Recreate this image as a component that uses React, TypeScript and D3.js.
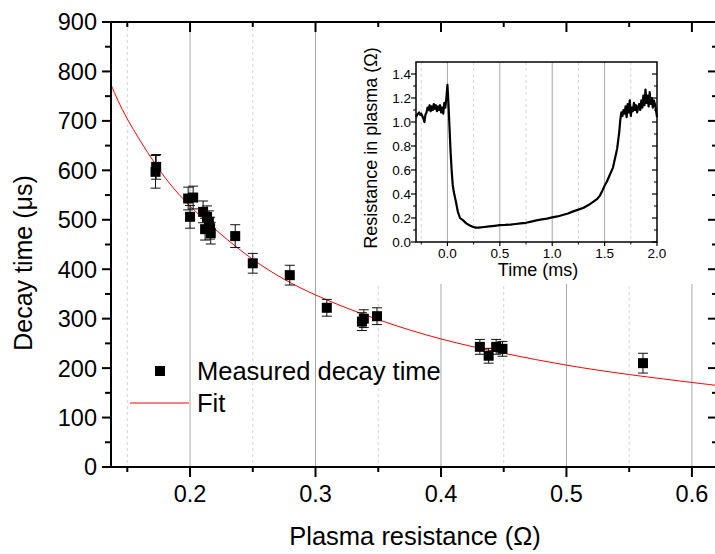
import React from "react";
import * as d3 from "d3";

const W = 715;
const H = 554;

// Main data: plasma resistance (Ω) vs decay time (µs)
const resistance = [0.1725, 0.173, 0.1985, 0.2025, 0.2, 0.2104, 0.2135, 0.215, 0.212, 0.216, 0.2165, 0.236, 0.25, 0.2795, 0.309, 0.337, 0.3385, 0.349, 0.431, 0.438, 0.444, 0.449, 0.561];
const decayTime = [597, 607, 543, 545, 506, 516, 506, 496, 481, 483, 473, 467, 412, 388, 322, 294, 300, 305, 243, 225, 243, 239, 210];
const decayErr = [33, 25, 23, 23, 23, 22, 22, 22, 22, 22, 22, 23, 20, 20, 17, 18, 18, 17, 15, 15, 15, 15, 20];

// Fit curve
const fitX = [0.137, 0.15, 0.172, 0.2, 0.25, 0.3, 0.35, 0.4, 0.45, 0.5, 0.55, 0.6, 0.62];
const fitY = [773, 704, 614, 528, 420, 348, 298, 259, 230, 206, 187, 171, 165];

const xMajor = [0.2, 0.3, 0.4, 0.5, 0.6];
const xMinor = [0.15, 0.25, 0.35, 0.45, 0.55];
const yMajor = [0, 100, 200, 300, 400, 500, 600, 700, 800, 900];
const yMinor = [50, 150, 250, 350, 450, 550, 650, 750, 850];

// Inset data: time (ms) vs resistance in plasma (Ω)
const timeMs = [
  -0.3, -0.29, -0.28, -0.27, -0.26, -0.25, -0.24, -0.23, -0.22, -0.21, -0.2, -0.19, -0.18, -0.17, -0.16, -0.15, -0.14, -0.13, -0.12, -0.11, -0.1, -0.09, -0.08, -0.07, -0.06, -0.05, -0.04, -0.03, -0.02, -0.01, 0.0,
  0.01, 0.02, 0.03, 0.04, 0.05, 0.06, 0.08, 0.1, 0.12, 0.15, 0.18, 0.21, 0.24, 0.27, 0.3, 0.35, 0.4, 0.45, 0.5, 0.55, 0.6, 0.65, 0.7, 0.75, 0.8, 0.85, 0.9, 0.95, 1.0,
  1.05, 1.1, 1.15, 1.2, 1.25, 1.3, 1.35, 1.4, 1.43, 1.45, 1.48, 1.5, 1.52, 1.55, 1.58, 1.6, 1.62, 1.64, 1.65, 1.66, 1.67, 1.68, 1.69, 1.7, 1.71, 1.72, 1.73, 1.74, 1.75,
  1.76, 1.77, 1.78, 1.79, 1.8, 1.81, 1.82, 1.83, 1.84, 1.85, 1.86, 1.87, 1.88, 1.89, 1.9, 1.91, 1.92, 1.93, 1.94, 1.95, 1.96, 1.97, 1.98, 1.99, 2.0,
];
const resOhm = [
  1.04, 1.06, 1.07, 1.08, 1.06, 1.07, 1.05, 1.03, 1.0, 1.06, 1.08, 1.12, 1.1, 1.14, 1.09, 1.13, 1.1, 1.15, 1.11, 1.14, 1.09, 1.13, 1.1, 1.14, 1.08, 1.12, 1.07, 1.16, 1.12, 1.2, 1.31,
  1.15, 0.95, 0.75, 0.6, 0.48, 0.42, 0.34, 0.25, 0.2, 0.18, 0.155, 0.14, 0.127, 0.12, 0.12, 0.125, 0.13, 0.135, 0.14, 0.142, 0.145, 0.15, 0.155, 0.16, 0.17, 0.18, 0.188, 0.195, 0.205,
  0.213, 0.225, 0.238, 0.255, 0.27, 0.285, 0.31, 0.34, 0.36, 0.38, 0.43, 0.47, 0.5, 0.56, 0.62, 0.7, 0.78, 0.92, 1.02, 1.08, 1.05, 1.1, 1.07, 1.13, 1.04, 1.15, 1.08, 1.18, 1.05,
  1.12, 1.09, 1.16, 1.1, 1.14, 1.08, 1.12, 1.15, 1.1, 1.18, 1.12, 1.22, 1.14, 1.27, 1.16, 1.22, 1.13, 1.25, 1.15, 1.2, 1.12, 1.18, 1.15, 1.1, 1.04,
];

const tMajor = [0, 0.5, 1.0, 1.5, 2.0];
const tMinor = [-0.25, 0.25, 0.75, 1.25, 1.75];
const rMajor = [0, 0.2, 0.4, 0.6, 0.8, 1.0, 1.2, 1.4];
const rMinor = [0.1, 0.3, 0.5, 0.7, 0.9, 1.1, 1.3];

const FONT = "'Liberation Sans', Arial, Helvetica, sans-serif";

export default function App() {
  const left = 111, right = 717, top = 22, bottom = 467;
  const x = d3.scaleLinear().domain([0.137, 0.62]).range([left, right]);
  const y = d3.scaleLinear().domain([0, 900]).range([bottom, top]);

  const fitLine = d3
    .line<number>()
    .x((_, i) => x(fitX[i]))
    .y((d) => y(d))
    .curve(d3.curveNatural)(fitY) as string;

  // inset
  const il = 416, ir = 657, it = 62, ib = 242;
  const ix = d3.scaleLinear().domain([-0.3, 2.0]).range([il, ir]);
  const iy = d3.scaleLinear().domain([0, 1.5]).range([ib, it]);
  const insetLine = d3
    .line<number>()
    .x((_, i) => ix(timeMs[i]))
    .y((d) => iy(d))(resOhm) as string;

  const sq = 10;

  return (
    <svg width={W} height={H} style={{ position: "absolute", left: 0, top: 0, background: "#fff" }} fontFamily={FONT}>
      <rect x={0} y={0} width={W} height={H} fill="#fff" />
      {/* main grid */}
      {xMinor.map((v) => (
        <line key={"gm" + v} x1={x(v)} x2={x(v)} y1={top} y2={bottom} stroke="#d4d4d4" strokeWidth={1} strokeDasharray="3,3" />
      ))}
      {xMajor.map((v) => (
        <line key={"gM" + v} x1={x(v)} x2={x(v)} y1={top} y2={bottom} stroke="#a8a8a8" strokeWidth={1} />
      ))}

      {/* white area behind inset */}
      <rect x={350} y={top + 1} width={right - 350} height={283 - top} fill="#fff" />

      {/* inset */}
      <g>
        {tMinor.map((v) => (
          <line key={"itm" + v} x1={ix(v)} x2={ix(v)} y1={it} y2={ib} stroke="#d4d4d4" strokeWidth={1} strokeDasharray="3,3" />
        ))}
        {tMajor.slice(0, 4).map((v) => (
          <line key={"itM" + v} x1={ix(v)} x2={ix(v)} y1={it} y2={ib} stroke="#a8a8a8" strokeWidth={1} />
        ))}
        <path d={insetLine} fill="none" stroke="#000" strokeWidth={2.2} strokeLinejoin="round" />
        <rect x={il} y={it} width={ir - il} height={ib - it} fill="none" stroke="#000" strokeWidth={1.5} />
        {/* inset left ticks outward, right inward */}
        {rMajor.map((v) => (
          <g key={"irM" + v}>
            <line x1={il - 5} x2={il} y1={iy(v)} y2={iy(v)} stroke="#000" strokeWidth={1.2} />
            <line x1={ir - 5} x2={ir} y1={iy(v)} y2={iy(v)} stroke="#000" strokeWidth={1.2} />
            <text x={il - 5} y={iy(v)} dy="0.36em" textAnchor="end" fontSize={13.5}>
              {v.toFixed(1)}
            </text>
          </g>
        ))}
        {rMinor.map((v) => (
          <g key={"irm" + v}>
            <line x1={il - 3} x2={il} y1={iy(v)} y2={iy(v)} stroke="#000" strokeWidth={1} />
            <line x1={ir - 3} x2={ir} y1={iy(v)} y2={iy(v)} stroke="#000" strokeWidth={1} />
          </g>
        ))}
        {tMajor.map((v) => (
          <g key={"itk" + v}>
            <line x1={ix(v)} x2={ix(v)} y1={ib} y2={ib + 4} stroke="#000" strokeWidth={1.2} />
            <text x={ix(v)} y={258} textAnchor="middle" fontSize={13.5}>
              {v.toFixed(1)}
            </text>
          </g>
        ))}
        {tMinor.map((v) => (
          <line key={"itk2" + v} x1={ix(v)} x2={ix(v)} y1={ib} y2={ib + 2.5} stroke="#000" strokeWidth={1} />
        ))}
        <text x={538} y={276} textAnchor="middle" fontSize={18}>
          Time (ms)
        </text>
        <text transform={`translate(377,148) rotate(-90)`} textAnchor="middle" fontSize={18}>
          Resistance in plasma (Ω)
        </text>
      </g>

      {/* fit */}
      <path d={fitLine} fill="none" stroke="#ff0000" strokeWidth={1} />

      {/* data */}
      {resistance.map((r, i) => {
        const cx = x(r);
        const cy = y(decayTime[i]);
        const yt = y(decayTime[i] + decayErr[i]);
        const yb = y(decayTime[i] - decayErr[i]);
        return (
          <g key={"p" + i}>
            <line x1={cx} x2={cx} y1={yt} y2={yb} stroke="#111" strokeWidth={1} />
            <line x1={cx - 5} x2={cx + 5} y1={yt} y2={yt} stroke="#111" strokeWidth={1} />
            <line x1={cx - 5} x2={cx + 5} y1={yb} y2={yb} stroke="#111" strokeWidth={1} />
            <rect x={cx - sq / 2} y={cy - sq / 2} width={sq} height={sq} fill="#000" />
          </g>
        );
      })}

      {/* axes lines */}
      <line x1={left} x2={left} y1={top} y2={bottom + 1} stroke="#000" strokeWidth={2} />
      <line x1={left - 1} x2={right} y1={bottom} y2={bottom} stroke="#000" strokeWidth={2} />
      <line x1={left - 1} x2={right} y1={top} y2={top} stroke="#000" strokeWidth={2} />
      <line x1={right} x2={right} y1={top} y2={bottom} stroke="#000" strokeWidth={2} />

      {/* y ticks */}
      {yMajor.map((v) => (
        <g key={"yM" + v}>
          <line x1={left - 9} x2={left} y1={y(v)} y2={y(v)} stroke="#000" strokeWidth={2} />
          <line x1={right - 9} x2={right} y1={y(v)} y2={y(v)} stroke="#000" strokeWidth={2} />
          <text x={97} y={y(v)} dy="0.36em" textAnchor="end" fontSize={23.5}>
            {v}
          </text>
        </g>
      ))}
      {yMinor.map((v) => (
        <g key={"ym" + v}>
          <line x1={left - 6} x2={left} y1={y(v)} y2={y(v)} stroke="#000" strokeWidth={2} />
          <line x1={right - 5} x2={right} y1={y(v)} y2={y(v)} stroke="#000" strokeWidth={2} />
        </g>
      ))}
      {/* x ticks */}
      {xMajor.map((v) => (
        <g key={"xM" + v}>
          <line x1={x(v)} x2={x(v)} y1={bottom} y2={bottom + 10} stroke="#000" strokeWidth={2} />
          <line x1={x(v)} x2={x(v)} y1={top} y2={top + 10} stroke="#000" strokeWidth={2} />
          <text x={x(v)} y={502} textAnchor="middle" fontSize={23.5}>
            {v.toFixed(1)}
          </text>
        </g>
      ))}
      {xMinor.map((v) => (
        <g key={"xm" + v}>
          <line x1={x(v)} x2={x(v)} y1={bottom} y2={bottom + 5} stroke="#000" strokeWidth={2} />
          <line x1={x(v)} x2={x(v)} y1={top} y2={top + 5} stroke="#000" strokeWidth={2} />
        </g>
      ))}

      {/* axis titles */}
      <text x={415} y={545} textAnchor="middle" fontSize={25.5}>
        Plasma resistance (Ω)
      </text>
      <text transform="translate(32,263) rotate(-90)" textAnchor="middle" fontSize={25}>
        Decay time (μs)
      </text>

      {/* legend */}
      <rect x={160 - 5} y={371 - 5} width={10} height={10} fill="#000" />
      <text x={197} y={380} fontSize={25.5}>
        Measured decay time
      </text>
      <line x1={130} x2={189} y1={403} y2={403} stroke="#ff0000" strokeWidth={1} />
      <text x={197} y={412} fontSize={25.5}>
        Fit
      </text>
    </svg>
  );
}
